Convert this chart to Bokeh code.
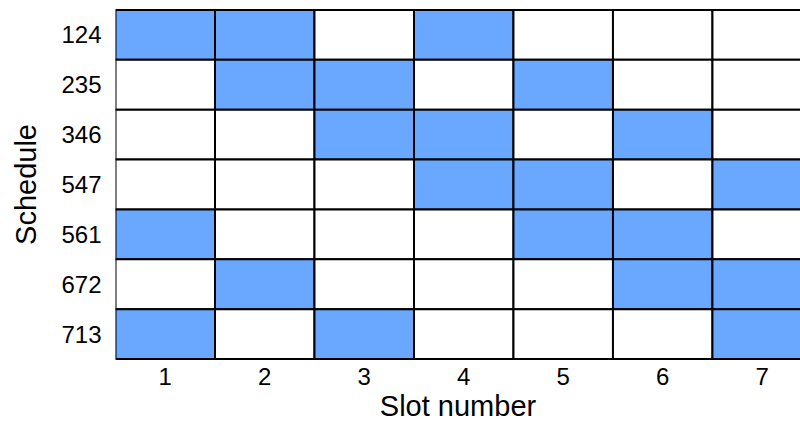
from bokeh.plotting import figure
from bokeh.models import ColumnDataSource, FixedTicker, Range1d
from bokeh.embed import file_html
from bokeh.resources import INLINE

schedules = ["124", "235", "346", "547", "561", "672", "713"]
slots = [1, 2, 3, 4, 5, 6, 7]
# 1 = slot used by schedule
used = [
    [1, 1, 0, 1, 0, 0, 0],
    [0, 1, 1, 0, 1, 0, 0],
    [0, 0, 1, 1, 0, 1, 0],
    [0, 0, 0, 1, 1, 0, 1],
    [1, 0, 0, 0, 1, 1, 0],
    [0, 1, 0, 0, 0, 1, 1],
    [1, 0, 1, 0, 0, 0, 1],
]

BLUE = "#6aa8ff"
n = len(schedules)
xs, ys, colors = [], [], []
for i, sched in enumerate(schedules):
    for j, s in enumerate(slots):
        xs.append(s)
        ys.append(n - i)
        colors.append(BLUE if used[i][j] else "white")

src = ColumnDataSource(dict(x=xs, y=ys, c=colors))

p = figure(width=800, height=424, output_backend="svg", toolbar_location=None,
           x_range=Range1d(0.5, 7.385), y_range=Range1d(0.47, 7.53),
           min_border_left=115, min_border_right=0, min_border_top=8, min_border_bottom=60)
p.rect(x="x", y="y", width=1, height=1, source=src, fill_color="c",
       line_color="black", line_width=2)

p.outline_line_color = None
p.grid.visible = False
for ax in (p.xaxis[0], p.yaxis[0]):
    ax.axis_line_color = None
    ax.major_tick_line_color = None
    ax.minor_tick_line_color = None
    ax.major_label_text_font = "Liberation Sans"
    ax.major_label_text_font_size = "24px"
    ax.major_label_text_color = "black"
    ax.axis_label_text_font = "Liberation Sans"
    ax.axis_label_text_font_size = "29px"
    ax.axis_label_text_font_style = "normal"
    ax.axis_label_text_color = "black"

p.xaxis.ticker = FixedTicker(ticks=slots)
p.xaxis.axis_label = "Slot number"
p.xaxis.major_label_standoff = 1
p.xaxis.axis_label_standoff = 2

p.yaxis.ticker = FixedTicker(ticks=list(range(1, n + 1)))
p.yaxis.major_label_overrides = {n - i: s for i, s in enumerate(schedules)}
p.yaxis.axis_label = "Schedule"
p.yaxis.major_label_standoff = 8
p.yaxis.axis_label_standoff = 16

open("out.html", "w").write(file_html(p, INLINE))
